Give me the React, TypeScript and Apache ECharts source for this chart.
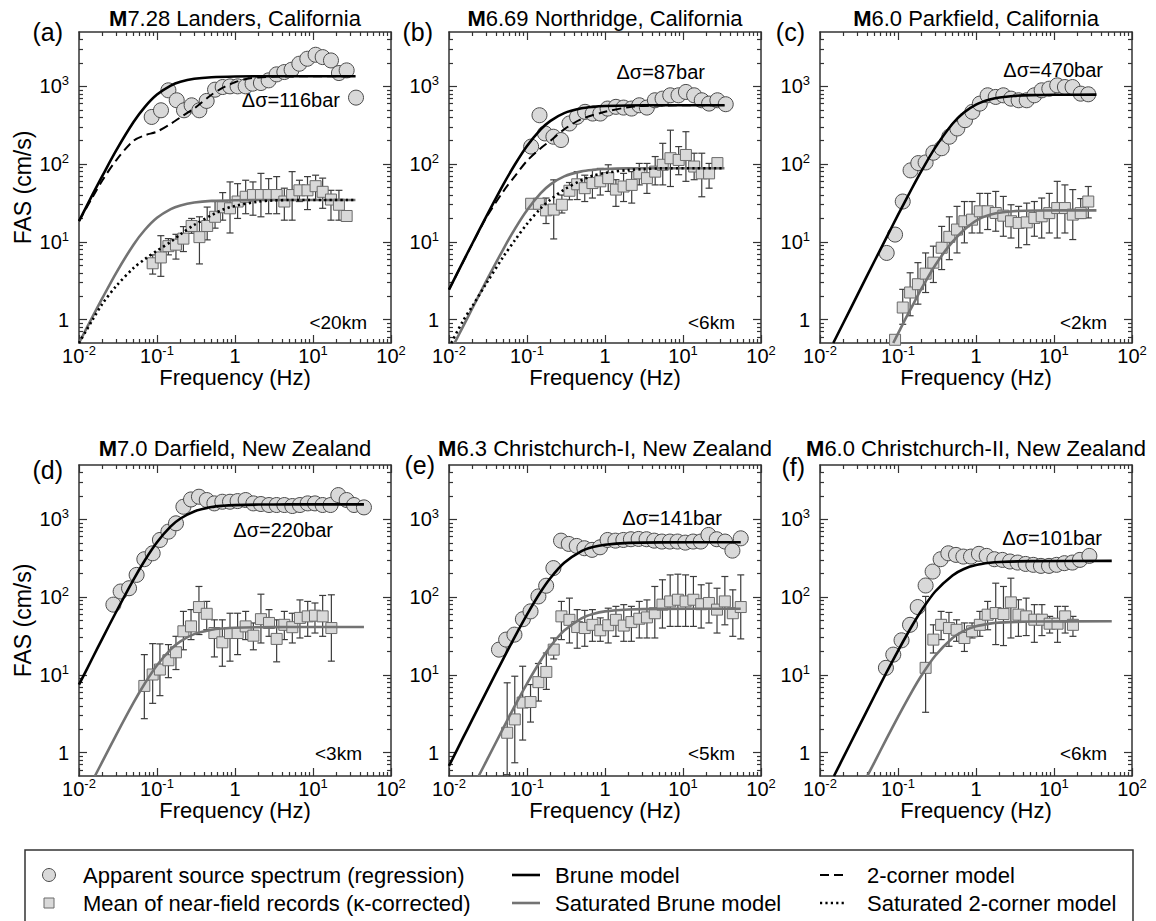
import React, { useEffect, useRef } from 'react';
import * as echarts from 'echarts';

// ---------------- DATA (frequency in Hz, FAS in cm/s) ----------------
// (a) Landers
const A_CIRC_F = [0.0855, 0.1125, 0.14, 0.179, 0.222, 0.278, 0.349, 0.433, 0.555, 0.695, 0.863, 1.08, 1.37, 1.68, 2.15, 2.7, 3.42, 4.29, 5.32, 6.68, 8.46, 10.8, 13.3, 17.0, 21.5, 27.0, 35.6];
const A_CIRC_V = [404, 492, 889, 662, 492, 570, 492, 649, 906, 980, 1000, 1000, 1000, 1082, 1103, 1194, 1426, 1527, 1636, 1954, 2265, 2548, 2377, 2153, 1482, 1604, 716];
const A_SQ_F = [0.088, 0.112, 0.14, 0.175, 0.218, 0.278, 0.35, 0.44, 0.555, 0.695, 0.863, 1.08, 1.37, 1.7, 2.15, 2.7, 3.42, 4.29, 5.4, 6.7, 8.5, 10.8, 13.3, 17, 21.5, 27];
const A_SQ_V = [5.3, 6.3, 8.8, 9.2, 11, 16, 11.5, 16, 21, 27.8, 27, 33, 38, 40, 40, 40, 40, 33, 40, 46, 46, 52, 44, 35, 30, 21.5];
const A_SQ_HI = [6.8, 12, 11, 12.5, 15.7, 20, 21, 28, 33, 43, 59, 56, 62, 59, 76, 65, 69, 49, 80, 62, 69, 72, 66, 46, 46, null];
const A_SQ_LO = [3.85, 3.6, 6.8, 6, 7.5, 12.9, 5.2, 10.6, 15, 19, 13, 20, 23, 22, 21, 23, 23, 19, 19, 33, 26, 35, 27, 19, 19, null];
const A_BRUNE_F = [0.01, 0.015, 0.02, 0.03, 0.05, 0.07, 0.1, 0.15, 0.2, 0.3, 0.5, 1, 3, 35];
const A_BRUNE_V = [18.5, 41, 71, 150, 347, 545, 784, 1022, 1144, 1250, 1312, 1340, 1350, 1350];
const A_2C_F = [0.01, 0.015, 0.02, 0.03, 0.05, 0.07, 0.1, 0.15, 0.2, 0.3, 0.5, 0.7, 1, 1.5, 2, 3, 5, 35];
const A_2C_V = [18.5, 38, 62, 112, 200, 235, 262, 330, 400, 520, 780, 960, 1130, 1260, 1300, 1330, 1345, 1350];
const A_SATB_F = [0.01, 0.015, 0.02, 0.03, 0.05, 0.07, 0.1, 0.15, 0.2, 0.3, 0.5, 1, 3, 35];
const A_SATB_V = [0.5, 1.1, 1.9, 4.0, 9.2, 14.3, 20.4, 26.4, 29.4, 32.0, 33.6, 34.3, 34.5, 34.5];
const A_SAT2C_F = [0.01, 0.015, 0.02, 0.03, 0.05, 0.07, 0.1, 0.15, 0.2, 0.3, 0.5, 0.7, 1, 2, 3, 5, 35];
const A_SAT2C_V = [0.5, 1.0, 1.6, 2.7, 4.6, 6.0, 7.7, 10, 12.5, 16.5, 22, 26, 29, 33, 34, 34.5, 34.5];

// (b) Northridge
const B_CIRC_F = [0.113, 0.1446, 0.17, 0.218, 0.273, 0.35, 0.438, 0.555, 0.695, 0.871, 1.08, 1.38, 1.73, 2.19, 2.75, 3.44, 4.36, 5.47, 6.86, 8.76, 10.9, 13.9, 17.4, 21.6, 27.6, 35.3];
const B_CIRC_V = [168, 425, 248, 225, 204, 333, 405, 470, 447, 447, 518, 545, 533, 518, 571, 533, 662, 695, 767, 767, 847, 767, 662, 600, 662, 589];
const B_SQ_F = [0.113, 0.142, 0.1755, 0.22, 0.28, 0.35, 0.44, 0.55, 0.69, 0.87, 1.1, 1.38, 1.73, 2.2, 2.75, 3.45, 4.4, 5.5, 6.9, 8.8, 10.9, 13.9, 17.4, 21.6, 27.6];
const B_SQ_V = [30.9, 30.9, 25.4, 26, 30, 45.4, 55, 49, 57, 60, 66, 47, 51.5, 54, 76, 66, 80, 98, 119, 113, 131, 93, 76, 76, 103];
const B_SQ_HI = [null, null, 36.6, 62.7, 40, 58, 80, 72, 84, 88, 98, 63, 76, 80, 102, 102, 125, 185, 273, 168, 261, 138, 138, 102, null];
const B_SQ_LO = [null, null, 17.2, 10.9, 23.5, 34.8, 35, 33, 36.6, 40, 44.5, 28.6, 33, 31.5, 54, 42, 54, 54, 51.5, 73, 60, 63, 38, 49, null];
const B_BRUNE_F = [0.01, 0.015, 0.02, 0.03, 0.05, 0.07, 0.1, 0.15, 0.2, 0.3, 0.5, 0.7, 1, 2, 5, 34];
const B_BRUNE_V = [2.43, 5.45, 9.6, 21.1, 55.1, 98.8, 171, 280, 360, 453, 522, 545, 558, 568, 571, 571];
const B_2C_F = [0.01, 0.015, 0.02, 0.03, 0.05, 0.07, 0.1, 0.15, 0.2, 0.3, 0.5, 1, 2, 3, 5, 34];
const B_2C_V = [2.43, 5.4, 9.5, 20.5, 45, 70, 110, 160, 200, 280, 380, 470, 540, 560, 568, 571];
const B_SATB_F = [0.0118, 0.015, 0.02, 0.03, 0.05, 0.07, 0.1, 0.15, 0.2, 0.3, 0.5, 0.7, 1, 2, 5, 34];
const B_SATB_V = [0.5, 0.8, 1.41, 3.12, 8.15, 14.7, 25.5, 42.2, 54.8, 69.5, 80.6, 84.3, 86.4, 88, 88.5, 88.5];
const B_SAT2C_F = [0.0107, 0.015, 0.02, 0.03, 0.05, 0.07, 0.1, 0.15, 0.2, 0.3, 0.5, 0.7, 1, 2, 3, 5, 34];
const B_SAT2C_V = [0.5, 0.95, 1.5, 2.9, 6.5, 10.5, 17, 27, 35, 47, 62, 71, 77, 84, 86, 88, 88.5];

// (c) Parkfield
const C_CIRC_F = [0.0716, 0.0917, 0.115, 0.145, 0.182, 0.226, 0.284, 0.363, 0.455, 0.576, 0.723, 0.898, 1.12, 1.41, 1.79, 2.24, 2.81, 3.52, 4.47, 5.6, 6.95, 8.71, 11.0, 13.8, 17.3, 22, 27.5];
const C_CIRC_V = [7.2, 12.4, 33, 83, 103, 105, 140, 160, 225, 287, 367, 470, 600, 767, 731, 767, 695, 662, 662, 767, 889, 933, 1030, 980, 980, 805, 790];
const C_SQ_F = [0.0917, 0.115, 0.143, 0.18, 0.226, 0.284, 0.363, 0.455, 0.571, 0.71, 0.89, 1.12, 1.41, 1.79, 2.24, 2.81, 3.52, 4.47, 5.6, 6.95, 8.7, 11, 13.8, 17.4, 22, 27.5];
const C_SQ_V = [0.55, 1.43, 2.23, 2.85, 3.9, 5.4, 8.4, 11.6, 14.4, 18.4, 19.3, 24.7, 24.7, 23.5, 21.7, 18.4, 17.5, 17.8, 20.3, 21.3, 23.4, 27.2, 27.2, 22.4, 23.4, 33];
const C_SQ_HI = [null, 2.45, 4.0, 5.4, 7.2, 8.8, 15.8, 21, 28.6, 33, 33, 42, 42, 44.5, 38.4, 30, 28.6, 31.5, 33, 36.6, 42, 60, 54, 47, 36, 51.5];
const C_SQ_LO = [null, 0.87, 1.12, 1.58, 2.23, 3.0, 4.4, 5.9, 7.2, 9.7, 13, 13, 14.4, 13.7, 11.8, 11.2, 8.4, 9.2, 11.8, 11.2, 13, 11.2, 13, 10.7, 20, 20.3];
const C_BRUNE_F = [0.0148, 0.02, 0.03, 0.05, 0.07, 0.1, 0.15, 0.2, 0.3, 0.5, 0.7, 1, 1.5, 2, 3, 5, 10, 35];
const C_BRUNE_V = [0.5, 0.91, 2.05, 5.67, 11.0, 22.2, 48.2, 81.8, 163, 330, 460, 583, 679, 720, 753, 771, 779, 782];
const C_SATB_F = [0.087, 0.1, 0.12, 0.15, 0.2, 0.3, 0.45, 0.7, 1.1, 1.8, 3, 6, 35];
const C_SATB_V = [0.5, 0.66, 0.95, 1.45, 2.5, 5.0, 8.8, 14.2, 19.8, 23.3, 24.8, 25.3, 25.4];

// (d) Darfield
const D_CIRC_F = [0.0276, 0.0342, 0.0438, 0.0548, 0.0688, 0.088, 0.109, 0.14, 0.175, 0.218, 0.273, 0.345, 0.434, 0.544, 0.688, 0.863, 1.08, 1.37, 1.72, 2.15, 2.73, 3.42, 4.29, 5.43, 6.8, 8.55, 10.6, 13.3, 16.8, 21.1, 27, 33.6, 45];
const D_CIRC_V = [80, 118, 130, 193, 307, 366, 543, 695, 889, 1452, 1803, 1954, 1772, 1604, 1684, 1684, 1717, 1772, 1604, 1574, 1528, 1528, 1528, 1483, 1528, 1604, 1604, 1528, 1528, 2051, 1772, 1528, 1425];
const D_SQ_F = [0.0688, 0.088, 0.109, 0.14, 0.175, 0.218, 0.273, 0.345, 0.434, 0.544, 0.688, 0.863, 1.08, 1.37, 1.72, 2.15, 2.73, 3.42, 4.29, 5.43, 6.8, 8.55, 10.6, 13.3, 17.2];
const D_SQ_V = [7.2, 10.1, 11.7, 15.4, 19.5, 36.3, 42, 74.5, 61, 34.5, 26.2, 34.5, 34.5, 42, 31.9, 52, 46.5, 29, 44, 41, 54, 56.5, 57.7, 56.5, 40];
const D_SQ_HI = [18.2, 25.2, 25, 24.5, 31.3, 65.5, 69, 137, 88, 51, 51, 62, 62, 65.5, 46.5, 109, 69, 51, 65.5, 62, 92, 88, 84, 105, 107];
const D_SQ_LO = [2.73, 4.3, 5.4, 9.2, 11.7, 21, 28.4, 33, 38, 17, 12.9, 15, 18.2, 28.4, 21, 25.7, 31.3, 14.7, 28.4, 25.7, 29.8, 31.3, 34.5, 31.3, 15];
const D_BRUNE_F = [0.01, 0.015, 0.02, 0.03, 0.05, 0.07, 0.1, 0.15, 0.2, 0.3, 0.5, 0.7, 1, 2, 5, 45];
const D_BRUNE_V = [7.47, 16.7, 29.5, 64.8, 168, 298, 507, 810, 1025, 1265, 1438, 1494, 1525, 1549, 1556, 1557];
const D_SATB_F = [0.016, 0.02, 0.03, 0.05, 0.07, 0.1, 0.15, 0.2, 0.3, 0.5, 0.7, 1, 2, 5, 45];
const D_SATB_V = [0.5, 0.77, 1.69, 4.38, 7.79, 13.3, 21.3, 27.0, 33.4, 38.0, 39.5, 40.4, 41.0, 41.2, 41.2];

// (e) Christchurch-I
const E_CIRC_F = [0.0437, 0.054, 0.069, 0.0885, 0.111, 0.14, 0.176, 0.218, 0.273, 0.343, 0.434, 0.544, 0.682, 0.863, 1.08, 1.36, 1.72, 2.15, 2.7, 3.41, 4.28, 5.36, 6.79, 8.51, 10.7, 13.5, 16.9, 21.2, 27.1, 34.6, 43, 55];
const E_CIRC_V = [21.1, 28.4, 32.9, 52, 65.5, 102, 140, 236, 532, 483, 455, 425, 405, 437, 543, 532, 543, 555, 560, 555, 532, 518, 518, 518, 502, 518, 518, 630, 555, 518, 396, 570];
const E_SQ_F = [0.0557, 0.0697, 0.088, 0.111, 0.14, 0.177, 0.22, 0.276, 0.35, 0.44, 0.55, 0.69, 0.87, 1.1, 1.38, 1.74, 2.18, 2.75, 3.45, 4.35, 5.45, 6.85, 8.6, 10.8, 13.6, 17.1, 21.5, 27.3, 34.4, 43.5, 55];
const E_SQ_V = [1.8, 2.67, 4.4, 4.47, 8.05, 10.9, 21.1, 56.5, 51, 41.2, 40, 44, 37.4, 43.4, 51, 43, 47.7, 52.7, 54.8, 62, 80, 88, 92.5, 88, 92.5, 81, 84, 69, 88, 62, 74.5];
const E_SQ_HI = [7.9, 9.6, 12.9, 7.5, 14, 19.1, 29.8, 88, 97, 69, 67.5, 69, 54, 72, 76, 80, 76, 88, 92, 137, 167, 193, 197, 193, 184, 144, 151, 130, 184, 124, 193];
const E_SQ_LO = [0.52, 0.74, 1.45, 2.47, 4.6, 6.5, 16, 28.4, 25.7, 22, 23.3, 27, 27, 25.7, 31.3, 27, 27, 29.8, 29.8, 29.8, 40, 42, 42, 42, 42, 40, 46.5, 34.5, 44, 31.3, 29];
const E_BRUNE_F = [0.01, 0.015, 0.02, 0.03, 0.05, 0.07, 0.1, 0.15, 0.2, 0.3, 0.5, 0.7, 1, 2, 5, 55];
const E_BRUNE_V = [0.675, 1.52, 2.69, 6.0, 16.3, 31.1, 59.6, 117, 176, 276, 390, 440, 472, 498, 506, 507];
const E_SATB_F = [0.024, 0.03, 0.05, 0.07, 0.1, 0.15, 0.2, 0.3, 0.5, 0.7, 1, 2, 5, 55];
const E_SATB_V = [0.5, 0.77, 2.1, 4.01, 7.73, 15.3, 23.3, 37.1, 53.4, 60.7, 65.5, 69.4, 70.6, 70.8];

// (f) Christchurch-II
const F_CIRC_F = [0.07, 0.087, 0.111, 0.1426, 0.179, 0.226, 0.278, 0.352, 0.442, 0.554, 0.688, 0.863, 1.09, 1.37, 1.72, 2.18, 2.73, 3.42, 4.33, 5.43, 6.8, 8.63, 10.8, 13.6, 17.2, 21.5, 28.4];
const F_CIRC_V = [12.3, 18.2, 27.8, 44, 74.5, 141, 213, 307, 366, 349, 332, 332, 360, 339, 307, 301, 287, 278, 267, 260, 252, 252, 260, 273, 278, 301, 339];
const F_SQ_F = [0.226, 0.284, 0.357, 0.45, 0.564, 0.71, 0.89, 1.12, 1.41, 1.79, 2.25, 2.8, 3.5, 4.4, 5.6, 7.0, 8.8, 11.1, 13.9, 17.5];
const F_SQ_V = [12.3, 28.4, 44, 40, 38, 29.8, 36.3, 44, 59.4, 62.4, 60.5, 85.5, 59.4, 56.5, 51.2, 51.2, 45.5, 45.5, 56.5, 44];
const F_SQ_HI = [102, 44, 65.5, 63.5, 51, 46.5, 46.5, 65.5, 88, 151, 137, 175, 92.5, 97, 80, 80, 56.5, 76, 76, 56.5];
const F_SQ_LO = [3.3, 19.1, 28.4, 23.3, 27, 20, 29.8, 31.3, 38, 24.5, 23.8, 29.8, 31.3, 32, 26.2, 32, 34.5, 26.2, 34.5, 31.3];
const F_BRUNE_F = [0.0151, 0.02, 0.03, 0.05, 0.07, 0.1, 0.15, 0.2, 0.3, 0.5, 0.7, 1, 1.5, 2, 5, 55];
const F_BRUNE_V = [0.5, 0.874, 1.96, 5.38, 10.4, 20.4, 42.2, 67.4, 118, 190, 230, 258, 276, 283, 290, 292];
const F_SATB_F = [0.0404, 0.05, 0.07, 0.1, 0.15, 0.2, 0.3, 0.5, 0.7, 1, 1.5, 2, 5, 55];
const F_SATB_V = [0.5, 0.754, 1.46, 2.88, 6.04, 9.8, 17.6, 29.8, 36.8, 42.1, 45.6, 46.9, 48.5, 48.8];

// Text
const TAGS = ['(a)', '(b)', '(c)', '(d)', '(e)', '(f)'];
const MAGS = ['7.28', '6.69', '6.0', '7.0', '6.3', '6.0'];
const EVENTS = ['Landers, California', 'Northridge, California', 'Parkfield, California', 'Darfield, New Zealand', 'Christchurch-I, New Zealand', 'Christchurch-II, New Zealand'];
const STRESS = ['Δσ=116bar', 'Δσ=87bar', 'Δσ=470bar', 'Δσ=220bar', 'Δσ=141bar', 'Δσ=101bar'];
const DIST = ['<20km', '<6km', '<2km', '<3km', '<5km', '<6km'];

// Axis ranges / ticks
const X_RANGE_HZ = [0.01, 100];
const Y_RANGE = [0.5, 5000];
const X_MAJOR_HZ = [0.01, 0.1, 1, 10, 100];
const Y_MAJOR = [1, 10, 100, 1000];
const MINOR_MULT = [2, 3, 4, 5, 6, 7, 8, 9];

const NAME_CIRC = 'Apparent source spectrum (regression)';
const NAME_SQ = 'Mean of near-field records (κ-corrected)';
const NAME_BRUNE = 'Brune model';
const NAME_SATB = 'Saturated Brune model';
const NAME_2C = '2-corner model';
const NAME_SAT2C = 'Saturated 2-corner model';

// ---------------- LAYOUT / STYLE ----------------
const FONT = "'Liberation Sans', Arial, Helvetica, sans-serif";
const AX = '#333333';
const GRAY_LINE = '#737373';
const MARK_FILL = '#d9d9d9';
const CIRC_EDGE = '#4a4a4a';
const SQ_EDGE = '#6a6a6a';
const LAYOUT = [
  { left: 79, top: 32, tagX: 63, tagY: 32, titleY: 18, stressX: 340, stressY: 100, distX: 367, distY: 322 },
  { left: 449, top: 32, tagX: 433, tagY: 32, titleY: 18, stressX: 705, stressY: 72, distX: 735, distY: 322 },
  { left: 820, top: 32, tagX: 805, tagY: 32, titleY: 18, stressX: 1103, stressY: 70, distX: 1107, distY: 322 },
  { left: 79, top: 465, tagX: 63, tagY: 470, titleY: 448, stressX: 333, stressY: 530, distX: 362, distY: 753 },
  { left: 449, top: 465, tagX: 435, tagY: 465, titleY: 448, stressX: 722, stressY: 518, distX: 735, distY: 753 },
  { left: 820, top: 465, tagX: 805, tagY: 467, titleY: 448, stressX: 1102, stressY: 538, distX: 1107, distY: 753 },
];
const PW = 312;
const PH = 311;

const L = Math.log10;

type Curve = { name: string; f: number[]; v: number[] };
type Panel = {
  circF: number[]; circV: number[];
  sqF: number[]; sqV: number[]; sqHi: (number | null)[]; sqLo: (number | null)[];
  curves: Curve[];
};

const PANELS: Panel[] = [
  { circF: A_CIRC_F, circV: A_CIRC_V, sqF: A_SQ_F, sqV: A_SQ_V, sqHi: A_SQ_HI, sqLo: A_SQ_LO,
    curves: [{ name: NAME_SATB, f: A_SATB_F, v: A_SATB_V }, { name: NAME_SAT2C, f: A_SAT2C_F, v: A_SAT2C_V }, { name: NAME_2C, f: A_2C_F, v: A_2C_V }, { name: NAME_BRUNE, f: A_BRUNE_F, v: A_BRUNE_V }] },
  { circF: B_CIRC_F, circV: B_CIRC_V, sqF: B_SQ_F, sqV: B_SQ_V, sqHi: B_SQ_HI, sqLo: B_SQ_LO,
    curves: [{ name: NAME_SATB, f: B_SATB_F, v: B_SATB_V }, { name: NAME_SAT2C, f: B_SAT2C_F, v: B_SAT2C_V }, { name: NAME_2C, f: B_2C_F, v: B_2C_V }, { name: NAME_BRUNE, f: B_BRUNE_F, v: B_BRUNE_V }] },
  { circF: C_CIRC_F, circV: C_CIRC_V, sqF: C_SQ_F, sqV: C_SQ_V, sqHi: C_SQ_HI, sqLo: C_SQ_LO,
    curves: [{ name: NAME_SATB, f: C_SATB_F, v: C_SATB_V }, { name: NAME_BRUNE, f: C_BRUNE_F, v: C_BRUNE_V }] },
  { circF: D_CIRC_F, circV: D_CIRC_V, sqF: D_SQ_F, sqV: D_SQ_V, sqHi: D_SQ_HI, sqLo: D_SQ_LO,
    curves: [{ name: NAME_SATB, f: D_SATB_F, v: D_SATB_V }, { name: NAME_BRUNE, f: D_BRUNE_F, v: D_BRUNE_V }] },
  { circF: E_CIRC_F, circV: E_CIRC_V, sqF: E_SQ_F, sqV: E_SQ_V, sqHi: E_SQ_HI, sqLo: E_SQ_LO,
    curves: [{ name: NAME_SATB, f: E_SATB_F, v: E_SATB_V }, { name: NAME_BRUNE, f: E_BRUNE_F, v: E_BRUNE_V }] },
  { circF: F_CIRC_F, circV: F_CIRC_V, sqF: F_SQ_F, sqV: F_SQ_V, sqHi: F_SQ_HI, sqLo: F_SQ_LO,
    curves: [{ name: NAME_SATB, f: F_SATB_F, v: F_SATB_V }, { name: NAME_BRUNE, f: F_BRUNE_F, v: F_BRUNE_V }] },
];

function minorLog(range: number[]) {
  const lo = L(range[0]);
  const hi = L(range[1]);
  const out: number[] = [];
  for (let d = Math.floor(lo) - 1; d <= Math.ceil(hi); d++) {
    for (const k of MINOR_MULT) {
      const v = d + L(k);
      if (v > lo + 1e-6 && v < hi - 1e-6) out.push(v);
    }
  }
  return out;
}

const RICH = {
  n: { fontSize: 20, lineHeight: 24, fontFamily: FONT, color: '#000' },
  s: { fontSize: 13, lineHeight: 13, verticalAlign: 'top', fontFamily: FONT, color: '#000' },
};
function powLabel(v: number) {
  const e = Math.round(v);
  if (e === 0) return '{n|1}';
  return '{n|10}{s|' + e + '}';
}

function lineStyleFor(name: string): any {
  if (name === NAME_BRUNE) return { color: '#000', width: 2.6 };
  if (name === NAME_SATB) return { color: GRAY_LINE, width: 2.6 };
  if (name === NAME_2C) return { color: '#000', width: 2, type: [9, 5] };
  return { color: '#000', width: 2.6, type: [2.2, 3.2] };
}

function buildOption() {
  const xMin = L(X_RANGE_HZ[0]);
  const xMax = L(X_RANGE_HZ[1]);
  const yMin = L(Y_RANGE[0]);
  const yMax = L(Y_RANGE[1]);
  const xMajor = X_MAJOR_HZ.map(L);
  const yMajor = Y_MAJOR.map(L);
  const xMinor = minorLog(X_RANGE_HZ);
  const yMinor = minorLog(Y_RANGE);

  const grids: any[] = [];
  const xAxes: any[] = [];
  const yAxes: any[] = [];
  const series: any[] = [];
  const graphics: any[] = [];

  const tickLine = { color: AX, width: 1.2 };
  const axLine = { show: true, onZero: false, lineStyle: { color: AX, width: 1.5 } };
  const noLine = { show: false, onZero: false };

  LAYOUT.forEach((lay, g) => {
    grids.push({ left: lay.left, top: lay.top, width: PW, height: PH, containLabel: false });
    const xBase = { type: 'value', gridIndex: g, min: xMin, max: xMax, splitLine: { show: false } };
    const yBase = { type: 'value', gridIndex: g, min: yMin, max: yMax, splitLine: { show: false } };
    // x axes: bottom major (labels), bottom minor, top major, top minor
    xAxes.push({
      ...xBase, position: 'bottom', axisLine: axLine,
      axisTick: { show: true, inside: true, length: 8, lineStyle: tickLine, customValues: xMajor },
      axisLabel: { show: true, margin: 1, customValues: xMajor, formatter: powLabel, rich: RICH },
      name: 'Frequency (Hz)', nameLocation: 'middle', nameGap: 21,
      nameTextStyle: { fontSize: 22, fontFamily: FONT, color: '#000' },
    });
    xAxes.push({ ...xBase, position: 'bottom', axisLine: noLine, axisLabel: { show: false },
      axisTick: { show: true, inside: true, length: 4, lineStyle: tickLine, customValues: xMinor } });
    xAxes.push({ ...xBase, position: 'top', axisLine: axLine, axisLabel: { show: false },
      axisTick: { show: true, inside: true, length: 8, lineStyle: tickLine, customValues: xMajor } });
    xAxes.push({ ...xBase, position: 'top', axisLine: noLine, axisLabel: { show: false },
      axisTick: { show: true, inside: true, length: 4, lineStyle: tickLine, customValues: xMinor } });
    // y axes: left major (labels), left minor, right major, right minor
    const yMain: any = {
      ...yBase, position: 'left', axisLine: axLine,
      axisTick: { show: true, inside: true, length: 8, lineStyle: tickLine, customValues: yMajor },
      axisLabel: { show: true, margin: 10, customValues: yMajor, formatter: powLabel, rich: RICH },
    };
    if (g % 3 === 0) {
      Object.assign(yMain, {
        name: 'FAS (cm/s)', nameLocation: 'middle', nameRotate: 90, nameGap: 45,
        nameTextStyle: { fontSize: 23, fontFamily: FONT, color: '#000' },
      });
    }
    yAxes.push(yMain);
    yAxes.push({ ...yBase, position: 'left', axisLine: noLine, axisLabel: { show: false },
      axisTick: { show: true, inside: true, length: 4, lineStyle: tickLine, customValues: yMinor } });
    yAxes.push({ ...yBase, position: 'right', axisLine: axLine, axisLabel: { show: false },
      axisTick: { show: true, inside: true, length: 8, lineStyle: tickLine, customValues: yMajor } });
    yAxes.push({ ...yBase, position: 'right', axisLine: noLine, axisLabel: { show: false },
      axisTick: { show: true, inside: true, length: 4, lineStyle: tickLine, customValues: yMinor } });

    const p = PANELS[g];
    const xi = 4 * g;
    const yi = 4 * g;

    // error bars
    const errData: number[][] = [];
    p.sqF.forEach((f, i) => {
      const hi = p.sqHi[i];
      const lo = p.sqLo[i];
      if (hi != null && lo != null) errData.push([L(f), L(lo), L(hi)]);
    });
    series.push({
      type: 'custom', name: 'error bar', xAxisIndex: xi, yAxisIndex: yi, data: errData, z: 2, silent: true, clip: true,
      encode: { x: 0, y: [1, 2] },
      renderItem: (_params: any, api: any) => {
        const x = api.value(0);
        const top = api.coord([x, api.value(2)]);
        const bot = api.coord([x, api.value(1)]);
        const w = 3.5;
        const st = { stroke: '#3c3c3c', lineWidth: 1.2, fill: 'none' };
        return {
          type: 'group',
          children: [
            { type: 'line', shape: { x1: top[0], y1: top[1], x2: bot[0], y2: bot[1] }, style: st },
            { type: 'line', shape: { x1: top[0] - w, y1: top[1], x2: top[0] + w, y2: top[1] }, style: st },
            { type: 'line', shape: { x1: bot[0] - w, y1: bot[1], x2: bot[0] + w, y2: bot[1] }, style: st },
          ],
        };
      },
    });
    series.push({
      type: 'scatter', name: NAME_SQ, xAxisIndex: xi, yAxisIndex: yi, z: 3, silent: true,
      symbol: 'rect', symbolSize: 11,
      itemStyle: { color: MARK_FILL, borderColor: SQ_EDGE, borderWidth: 1, opacity: 1 },
      data: p.sqF.map((f, i) => [L(f), L(p.sqV[i])]),
    });
    series.push({
      type: 'scatter', name: NAME_CIRC, xAxisIndex: xi, yAxisIndex: yi, z: 3, silent: true,
      symbol: 'circle', symbolSize: 15,
      itemStyle: { color: MARK_FILL, borderColor: CIRC_EDGE, borderWidth: 1, opacity: 1 },
      data: p.circF.map((f, i) => [L(f), L(p.circV[i])]),
    });
    p.curves.forEach((c) => {
      series.push({
        type: 'line', name: c.name, xAxisIndex: xi, yAxisIndex: yi, z: 4, silent: true,
        symbol: 'none', showSymbol: false, smooth: 0.3, clip: true,
        lineStyle: lineStyleFor(c.name),
        itemStyle: { color: lineStyleFor(c.name).color },
        data: c.f.map((f, i) => [L(f), L(c.v[i])]),
      });
    });

    // panel texts
    const cx = lay.left + PW / 2;
    graphics.push({
      type: 'text', x: cx, y: lay.titleY, silent: true,
      style: {
        text: '{b|M}{r|' + MAGS[g] + ' ' + EVENTS[g] + '}',
        textAlign: 'center', textVerticalAlign: 'middle', align: 'center', verticalAlign: 'middle',
        fill: '#000', fontSize: 22, fontFamily: FONT,
        rich: {
          b: { fontSize: 22, fontFamily: FONT, fontWeight: 'bold', fill: '#000', color: '#000' },
          r: { fontSize: 22, fontFamily: FONT, fill: '#000', color: '#000' },
        },
      },
    });
    const t = (x: number, y: number, text: string, size: number) => ({
      type: 'text', x, y, silent: true,
      style: {
        text, fontSize: size, fontFamily: FONT, fill: '#000',
        textAlign: 'right', textVerticalAlign: 'middle', align: 'right', verticalAlign: 'middle',
      },
    });
    graphics.push(t(lay.tagX, lay.tagY, TAGS[g], 25));
    graphics.push(t(lay.stressX, lay.stressY, STRESS[g], 20));
    graphics.push(t(lay.distX, lay.distY, DIST[g], 19));
  });

  // ---------- legend (drawn as graphic elements) ----------
  graphics.push({
    type: 'rect', silent: true, z: -1,
    shape: { x: 25, y: 850, width: 1108, height: 80 },
    style: { fill: 'none', stroke: '#333', lineWidth: 1.5 },
  });
  const legText = (x: number, y: number, text: string) => ({
    type: 'text', x, y, silent: true,
    style: {
      text, fontSize: 22, fontFamily: FONT, fill: '#000',
      textAlign: 'left', textVerticalAlign: 'middle', align: 'left', verticalAlign: 'middle',
    },
  });
  const legLine = (x1: number, x2: number, y: number, name: string) => {
    const ls = lineStyleFor(name);
    return {
      type: 'line', silent: true,
      shape: { x1, y1: y, x2, y2: y },
      style: { stroke: ls.color, lineWidth: ls.width, lineDash: ls.type || null },
    };
  };
  const ROW1 = 875;
  const ROW2 = 903;
  graphics.push({
    type: 'circle', silent: true, shape: { cx: 49, cy: ROW1, r: 6.5 },
    style: { fill: MARK_FILL, stroke: CIRC_EDGE, lineWidth: 1 },
  });
  graphics.push({
    type: 'rect', silent: true, shape: { x: 44, y: ROW2 - 5, width: 10, height: 10 },
    style: { fill: MARK_FILL, stroke: SQ_EDGE, lineWidth: 1 },
  });
  graphics.push(legText(83, ROW1, NAME_CIRC));
  graphics.push(legText(83, ROW2, NAME_SQ));
  graphics.push(legLine(512, 540, ROW1, NAME_BRUNE));
  graphics.push(legLine(512, 540, ROW2, NAME_SATB));
  graphics.push(legText(555, ROW1, NAME_BRUNE));
  graphics.push(legText(555, ROW2, NAME_SATB));
  graphics.push(legLine(820, 847, ROW1, NAME_2C));
  graphics.push(legLine(820, 847, ROW2, NAME_SAT2C));
  graphics.push(legText(867, ROW1, NAME_2C));
  graphics.push(legText(867, ROW2, NAME_SAT2C));

  return {
    animation: false,
    backgroundColor: '#fff',
    grid: grids,
    xAxis: xAxes,
    yAxis: yAxes,
    series,
    graphic: { elements: graphics },
  };
}

export default function App() {
  const ref = useRef<HTMLDivElement>(null);
  useEffect(() => {
    if (!ref.current) return;
    const chart = echarts.init(ref.current, undefined, { renderer: 'svg' });
    chart.setOption(buildOption() as any);
    return () => {
      chart.dispose();
    };
  }, []);
  return (
    <div
      ref={ref}
      style={{ position: 'absolute', left: 0, top: 0, width: 1156, height: 921, background: '#fff' }}
    />
  );
}
